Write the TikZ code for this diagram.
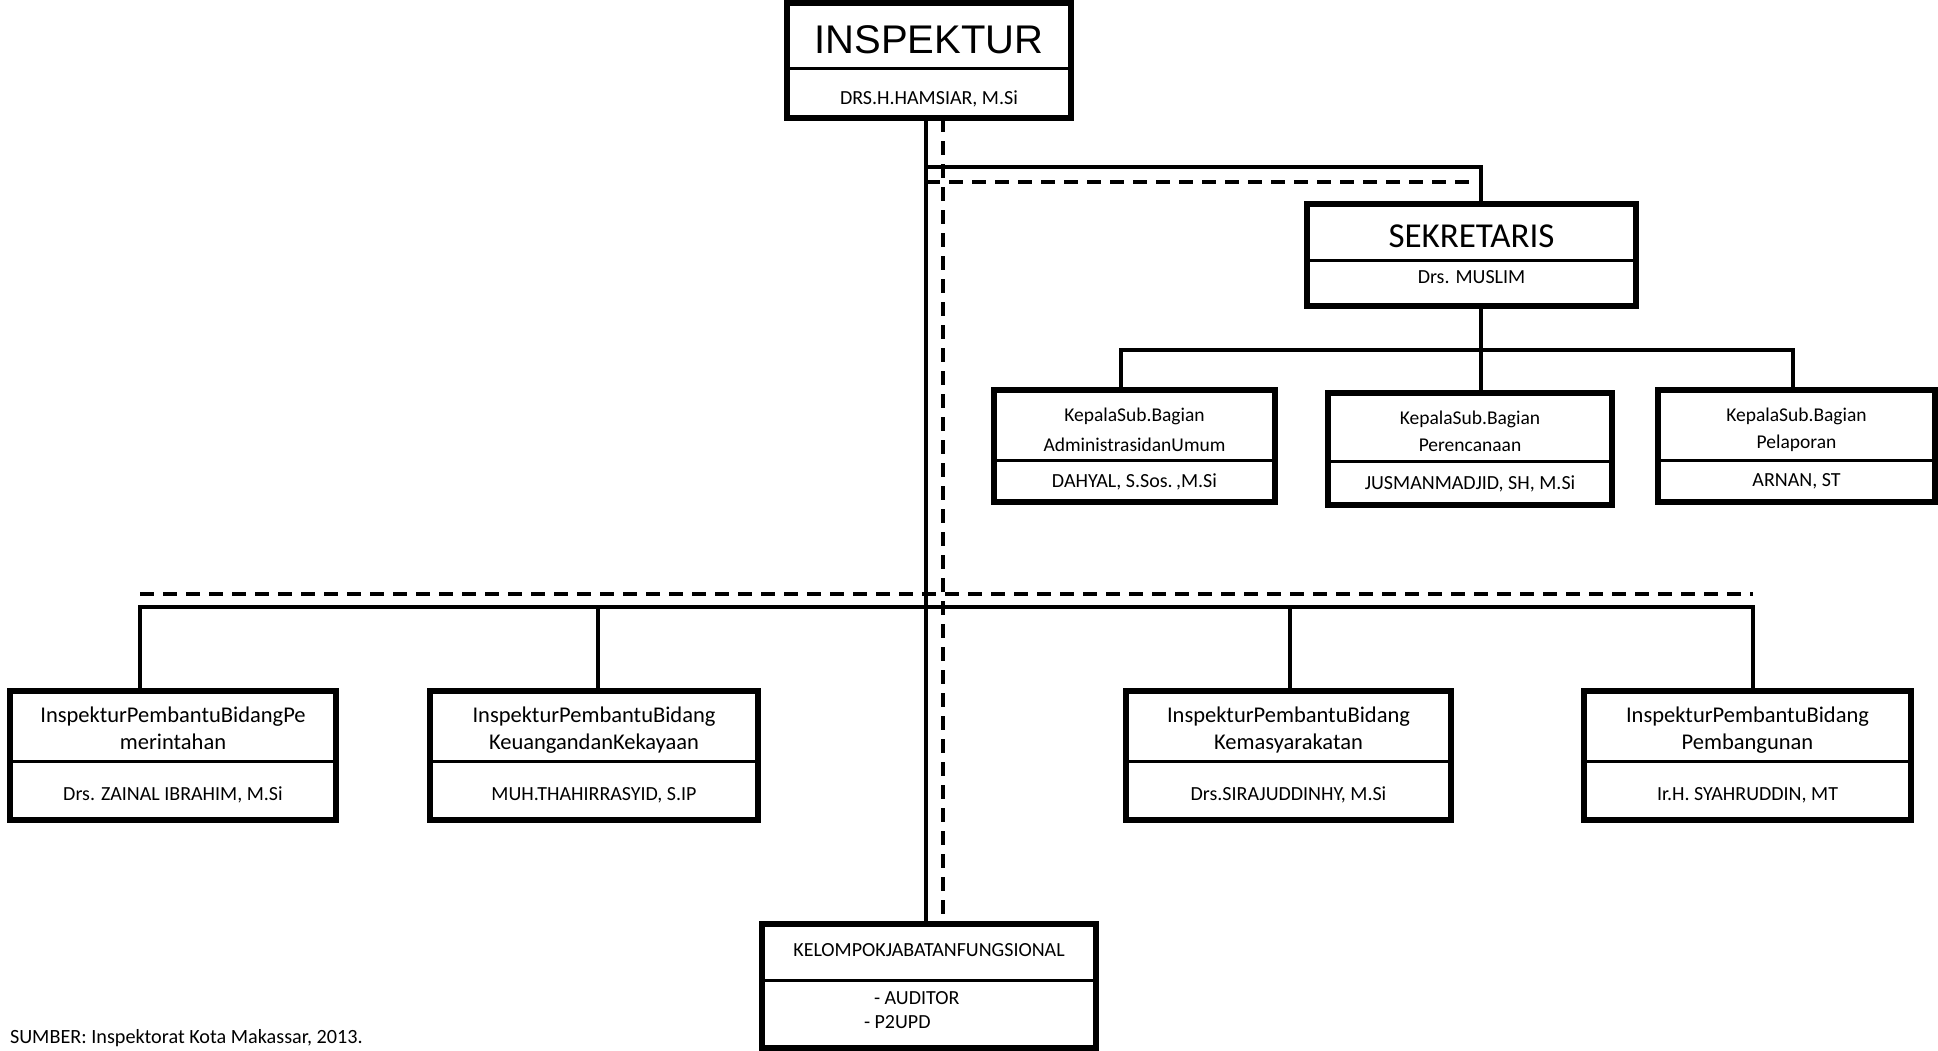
\documentclass[tikz,border=0pt]{standalone}
\usepackage{fontspec}
\setmainfont{Carlito}
\newfontfamily\arialf{Liberation Sans}
\begin{document}
\begin{tikzpicture}[x=1pt,y=-1pt,
  box/.style={draw, line width=6pt, fill=white, inner sep=0pt, outer sep=0pt},
  divline/.style={line width=3pt},
  conn/.style={line width=3.5pt},
  dconn/.style={line width=3.5pt, dash pattern=on 14pt off 9pt},
  lbl/.style={inner sep=0pt, outer sep=0pt, anchor=base},
  lblw/.style={inner sep=0pt, outer sep=0pt, anchor=base west},
  fn/.style={font=\fontsize{20}{24}\selectfont},
  fsub/.style={font=\fontsize{19.5}{24}\selectfont},
  fbig/.style={font=\fontsize{22.5}{27}\selectfont}]
\useasboundingbox (0,0) rectangle (1938,1050);

% ---------- boxes ----------
\node[box, minimum width=284pt, minimum height=115pt] (insp) at (929,60.5) {};
\node[box, minimum width=329pt, minimum height=102pt] (sek) at (1471.5,255) {};
\node[box, minimum width=281pt, minimum height=112pt] (sub1) at (1134.5,446) {};
\node[box, minimum width=284pt, minimum height=112pt] (sub2) at (1470,449) {};
\node[box, minimum width=277pt, minimum height=112pt] (sub3) at (1796.5,446) {};
\node[box, minimum width=326pt, minimum height=129pt] (bA) at (173,755.5) {};
\node[box, minimum width=328pt, minimum height=129pt] (bB) at (594,755.5) {};
\node[box, minimum width=325pt, minimum height=129pt] (bC) at (1288.5,755.5) {};
\node[box, minimum width=327pt, minimum height=129pt] (bD) at (1747.5,755.5) {};
\node[box, minimum width=334pt, minimum height=124pt] (kel) at (929,986) {};

% dividers
\draw[divline] (787,68) -- (1071,68);
\draw[divline] (1307,260) -- (1636,260);
\draw[divline] (994,460) -- (1275,460);
\draw[divline] (1328,461) -- (1612,461);
\draw[divline] (1658,460) -- (1935,460);
\draw[divline] (10,761) -- (336,761);
\draw[divline] (430,761) -- (758,761);
\draw[divline] (1126,761) -- (1451,761);
\draw[divline] (1584,761) -- (1911,761);
\draw[divline] (762,980) -- (1096,980);

% ---------- junction coordinates ----------
\coordinate (tr) at (926,167);
\coordinate (sekj) at (1481,167);
\coordinate (dtr) at (943,182);
\coordinate (dend) at (1471,182);
\coordinate (sb) at (1481,350);
\coordinate (s1j) at (1121,350);
\coordinate (s3j) at (1793,350);
\coordinate (jA) at (140,607);
\coordinate (jB) at (598,607);
\coordinate (jC) at (1290,607);
\coordinate (jD) at (1753,607);
\coordinate (dA) at (140,594);
\coordinate (dD) at (1753,594);

% ---------- connectors ----------
\draw[conn] (tr |- insp.south) -- (tr |- kel.north);
\draw[conn] (tr) -- (sekj) -- (sekj |- sek.north);
\draw[dconn] (dtr |- insp.south) -- (dtr |- kel.north);
\draw[dconn] (tr |- dtr) -- (dend);
\draw[conn] (sb |- sek.south) -- (sb);
\draw[conn] (s1j |- sub1.north) -- (s1j) -- (s3j) -- (s3j |- sub3.north);
\draw[conn] (sb) -- (sb |- sub2.north);
\draw[conn] (jA |- bA.north) -- (jA) -- (jD) -- (jD |- bD.north);
\draw[conn] (jB) -- (jB |- bB.north);
\draw[conn] (jC) -- (jC |- bC.north);
\draw[dconn] (dA) -- (dD);

% ---------- texts ----------
\node[lbl, font=\arialf\fontsize{40}{48}\selectfont] (insp-t) at (929,53) {INSPEKTUR};
\node[lbl, fn] (insp-n) at (929,104) {DRS.H.HAMSIAR, M.Si};

\node[lbl, font=\fontsize{35}{42}\selectfont] (sek-t) at (1471.5,247) {SEKRETARIS};
\node[lbl, fn] (sek-n) at (1471.5,283) {Drs. MUSLIM};

\node[lbl, fsub] (sub1-a) at (1134.5,421) {KepalaSub.Bagian};
\node[lbl, fsub] (sub1-b) at (1134.5,451) {AdministrasidanUmum};
\node[lbl, fn] (sub1-n) at (1134.5,487) {DAHYAL, S.Sos.\,,M.Si};

\node[lbl, fsub] (sub2-a) at (1470,424) {KepalaSub.Bagian};
\node[lbl, fsub] (sub2-b) at (1470,451) {Perencanaan};
\node[lbl, fn] (sub2-n) at (1470,489) {JUSMANMADJID, SH, M.Si};

\node[lbl, fsub] (sub3-a) at (1796.5,421) {KepalaSub.Bagian};
\node[lbl, fsub] (sub3-b) at (1796.5,448) {Pelaporan};
\node[lbl, fn] (sub3-n) at (1796.5,486) {ARNAN, ST};

\node[lbl, fbig] (bA-a) at (173,722) {InspekturPembantuBidangPe};
\node[lbl, fbig] (bA-b) at (173,749) {merintahan};
\node[lbl, fn] (bA-n) at (173,800) {Drs. ZAINAL IBRAHIM, M.Si};

\node[lbl, fbig] (bB-a) at (594,722) {InspekturPembantuBidang};
\node[lbl, fbig] (bB-b) at (594,749) {KeuangandanKekayaan};
\node[lbl, fn] (bB-n) at (594,800) {MUH.THAHIRRASYID, S.IP};

\node[lbl, fbig] (bC-a) at (1288.5,722) {InspekturPembantuBidang};
\node[lbl, fbig] (bC-b) at (1288.5,749) {Kemasyarakatan};
\node[lbl, fn] (bC-n) at (1288.5,800) {Drs.SIRAJUDDINHY, M.Si};

\node[lbl, fbig] (bD-a) at (1747.5,722) {InspekturPembantuBidang};
\node[lbl, fbig] (bD-b) at (1747.5,749) {Pembangunan};
\node[lbl, fn] (bD-n) at (1747.5,800) {Ir.H. SYAHRUDDIN, MT};

\node[lbl, fn] (kel-t) at (929,956) {KELOMPOKJABATANFUNGSIONAL};
\node[lblw, fn] (kel-a) at (874,1004) {- AUDITOR};
\node[lblw, fn] (kel-b) at (864,1028) {- P2UPD};

\node[lblw, font=\fontsize{20.2}{24}\selectfont] (src) at (10,1043) {SUMBER: Inspektorat Kota Makassar, 2013.};
\end{tikzpicture}
\end{document}
